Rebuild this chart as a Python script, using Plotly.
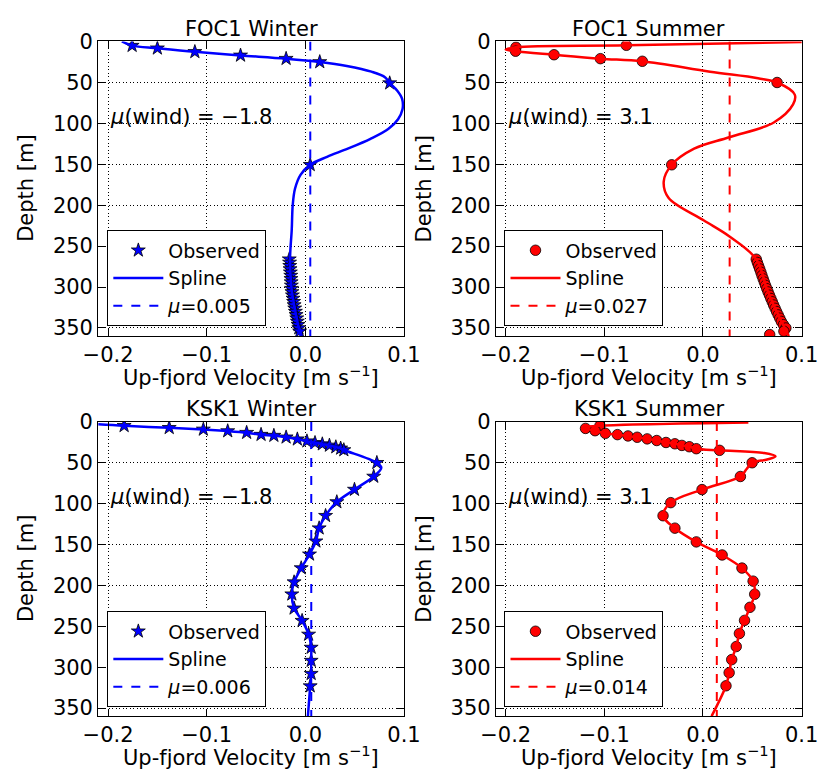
import plotly.graph_objects as go

FONT = "DejaVu Sans"

# ---------------- data ----------------
titles = ["FOC1 Winter", "FOC1 Summer", "KSK1 Winter", "KSK1 Summer"]
wind_labels = ["−1.8", "3.1", "−1.8", "3.1"]
means = [0.005, 0.027, 0.006, 0.014]
mean_labels = ["0.005", "0.027", "0.006", "0.014"]

# FOC1 Winter
foc1w_obs_depth = [5.2, 8.4, 12.8, 17.1, 21.1, 25.1, 51, 150.7,
                   266, 270, 274, 278, 282, 286, 290, 294, 298, 302, 306, 310,
                   314, 318, 322, 326, 330, 334, 338, 342, 346, 350, 354]
foc1w_obs_vel = [-0.1756, -0.150, -0.112, -0.0657, -0.0195, 0.0146, 0.0855, 0.0049,
                 -0.0163, -0.0160, -0.0158, -0.0155, -0.0152, -0.0148, -0.0146, -0.0144,
                 -0.0142, -0.0140, -0.0136, -0.0131, -0.0125, -0.0119, -0.0114, -0.0108,
                 -0.0101, -0.0094, -0.0087, -0.0081, -0.0074, -0.0066, -0.0058]
foc1w_spl_depth = [0, 5.2, 8.4, 12.8, 17.1, 21.1, 25.1, 30, 37, 44, 51, 60, 70, 83, 95,
                   107, 119, 131, 141, 150.7, 163, 180, 200, 230, 266, 302, 322, 342, 360]
foc1w_spl_vel = [-0.186, -0.1756, -0.150, -0.112, -0.0657, -0.0195, 0.0146, 0.042, 0.067,
                 0.081, 0.0855, 0.093, 0.098, 0.0985, 0.094, 0.084, 0.066, 0.043, 0.022,
                 0.0049, -0.0049, -0.0105, -0.0128, -0.0138, -0.0155, -0.0140, -0.0114,
                 -0.0081, -0.0048]

# FOC1 Summer
foc1s_obs_depth = [4.8, 7.2, 12, 16.3, 21.1, 24.3, 50.2, 150.7,
                   266, 270, 274, 278, 282, 286, 290, 294, 298, 302, 306, 310,
                   314, 318, 322, 326, 330, 334, 338, 342, 346, 350, 354, 358]
foc1s_obs_vel = [-0.0777, -0.1896, -0.190, -0.151, -0.104, -0.0615, 0.0751, -0.0317,
                 0.0540, 0.0551, 0.0563, 0.0575, 0.0587, 0.0598, 0.0610, 0.0622,
                 0.0634, 0.0647, 0.0660, 0.0674, 0.0688, 0.0702, 0.0716, 0.0731,
                 0.0746, 0.0762, 0.0778, 0.0794, 0.0815, 0.0840, 0.0820, 0.0676]
foc1s_spl_depth = [0.5, 4.8, 7.2, 10, 12, 16.3, 21.1, 24.3, 37, 45, 50.2, 65, 77, 99,
                   117, 131, 150.7, 171, 191, 218.5, 238, 266, 303, 323, 343, 360]
foc1s_spl_vel = [0.11, -0.0777, -0.1896, -0.200, -0.190, -0.151, -0.104, -0.0615, 0.0071,
                 0.0557, 0.0751, 0.093, 0.0913, 0.0718, 0.0265, -0.009, -0.0317, -0.0398,
                 -0.035, 0.0006, 0.0265, 0.054, 0.065, 0.072, 0.080, 0.087]

# KSK1 Winter
ksk1w_obs_depth = [4.8, 7.2, 9.2, 11.2, 13.2, 15.6, 16.8, 18.8, 21.2, 23.6, 25.6, 27.2,
                   28.8, 30.8, 32.4, 34.4, 50, 66.8, 82.8, 98, 114.8, 130, 146, 162,
                   178.8, 196, 210.8, 228, 243.2, 260, 276, 292, 308, 323.2]
ksk1w_obs_vel = [-0.1837, -0.138, -0.1034, -0.0787, -0.0595, -0.0449, -0.0319, -0.0195,
                 -0.0081, 0.0016, 0.0098, 0.0172, 0.0244, 0.0309, 0.0358, 0.039, 0.0725,
                 0.0693, 0.0498, 0.0319, 0.0205, 0.014, 0.0107, 0.0042, -0.0042, -0.0114,
                 -0.0137, -0.0114, -0.0033, 0.0033, 0.0059, 0.0059, 0.0059, 0.0049]
ksk1w_spl_depth = [3.0, 4.8, 7.2, 9.2, 11.2, 13.2, 15.6, 16.8, 18.8, 21.2, 23.6, 25.6,
                   27.2, 28.8, 30.8, 32.4, 34.4, 50, 56, 66.8, 82.8, 98, 114.8, 130,
                   146, 162, 178.8, 196, 210.8, 228, 243.2, 260, 276, 292, 308, 323.2, 360]
ksk1w_spl_vel = [-0.210, -0.1837, -0.138, -0.1034, -0.0787, -0.0595, -0.0449, -0.0319,
                 -0.0195, -0.0081, 0.0016, 0.0098, 0.0172, 0.0244, 0.0309, 0.0358, 0.039,
                 0.0725, 0.077, 0.0693, 0.0498, 0.0319, 0.0205, 0.014, 0.0107, 0.0042,
                 -0.0042, -0.0114, -0.0137, -0.0114, -0.0033, 0.0033, 0.0059, 0.0059,
                 0.0059, 0.0049, 0.0026]

# KSK1 Summer
ksk1s_obs_depth = [4.8, 8, 10.8, 14, 15.6, 17.2, 18.8, 20.8, 22.8, 25.2, 26.8, 28.8,
                   30.4, 32.8, 34.8, 50, 66.8, 82.8, 98.8, 114.8, 130, 146.8, 162.8,
                   178.8, 194.8, 210.8, 226.8, 242.8, 258.8, 274.8, 290.8, 306.8, 322.8]
ksk1s_obs_vel = [-0.1045, -0.1191, -0.1094, -0.099, -0.0867, -0.076, -0.0667, -0.0566,
                 -0.0469, -0.0375, -0.0285, -0.0214, -0.0139, -0.0068, 0.0168, 0.0498,
                 0.0379, -0.001, -0.0327, -0.0405, -0.0285, -0.0068, 0.0194, 0.0395,
                 0.0508, 0.0524, 0.0476, 0.0421, 0.0369, 0.0337, 0.0291, 0.0265, 0.0233]
ksk1s_spl_depth = [0.8, 4.8, 7.0, 10.8, 14, 15.6, 17.2, 18.8, 20.8, 22.8, 25.2, 26.8,
                   28.8, 30.4, 32.8, 34.8, 38, 42, 46, 50, 58, 66.8, 82.8, 98.8, 114.8,
                   130, 146.8, 162.8, 178.8, 194.8, 210.8, 226.8, 242.8, 258.8, 274.8,
                   290.8, 306.8, 322.8, 360]
ksk1s_spl_vel = [0.046, -0.1045, -0.122, -0.1094, -0.099, -0.0867, -0.076, -0.0667,
                 -0.0566, -0.0469, -0.0375, -0.0285, -0.0214, -0.0139, -0.0068, 0.0168,
                 0.062, 0.0735, 0.065, 0.0498, 0.044, 0.0379, -0.001, -0.0327, -0.0405,
                 -0.0285, -0.0068, 0.0194, 0.0395, 0.0508, 0.0524, 0.0476, 0.0421, 0.0369,
                 0.0337, 0.0291, 0.0265, 0.0233, 0.0087]

x_range = [-0.21, 0.1]
x_ticks = [-0.2, -0.1, 0.0, 0.1]
y_range = [360, 0]
y_ticks = [0, 50, 100, 150, 200, 250, 300, 350]
depth_limits = [0, 360]

panels = [
    (foc1w_obs_depth, foc1w_obs_vel, foc1w_spl_depth, foc1w_spl_vel, "blue", "star"),
    (foc1s_obs_depth, foc1s_obs_vel, foc1s_spl_depth, foc1s_spl_vel, "red", "circle"),
    (ksk1w_obs_depth, ksk1w_obs_vel, ksk1w_spl_depth, ksk1w_spl_vel, "blue", "star"),
    (ksk1s_obs_depth, ksk1s_obs_vel, ksk1s_spl_depth, ksk1s_spl_vel, "red", "circle"),
]

# ---------------- layout geometry (pixels) ----------------
W, H = 835, 777
px_x = [(86.5, 404.5), (500, 818), (86.5, 404.5), (500, 818)]
px_y = [(30, 331), (30, 331), (418.5, 719), (418.5, 719)]
legend_px = [(96, 223), (509, 223), (96, 612), (509, 612)]


def fx(p):
    return p / W


def fy(p):
    return 1 - p / H


fig = go.Figure()
layout = dict(
    width=W, height=H, margin=dict(l=0, r=0, t=0, b=0),
    paper_bgcolor="white", plot_bgcolor="white",
    font=dict(family=FONT, color="black", size=21),
    showlegend=True,
)
annotations = []

for i, (od, ov, sd, sv, col, sym) in enumerate(panels):
    n = i + 1
    xa = "x" if n == 1 else f"x{n}"
    ya = "y" if n == 1 else f"y{n}"
    lg = "legend" if n == 1 else f"legend{n}"

    fig.add_trace(go.Scatter(
        x=ov, y=od, mode="markers", name="Observed", legend=lg,
        xaxis=xa, yaxis=ya,
        marker=dict(symbol=sym, color=col, size=10.5,
                    line=dict(color="black", width=0.8)),
    ))
    fig.add_trace(go.Scatter(
        x=sv, y=sd, mode="lines", name="Spline", legend=lg,
        xaxis=xa, yaxis=ya,
        line=dict(color=col, width=2.5, shape="spline", smoothing=1.0),
    ))
    fig.add_trace(go.Scatter(
        x=[means[i], means[i]], y=depth_limits, mode="lines",
        name="<i>μ</i>=" + mean_labels[i], legend=lg,
        xaxis=xa, yaxis=ya,
        line=dict(color=col, width=2, dash="dash"),
    ))

    common = dict(showline=True, linecolor="black", linewidth=1, mirror="allticks",
                  ticks="inside", ticklen=7, tickcolor="black", tickwidth=1,
                  showgrid=True, gridcolor="black", griddash="1px,2.5px", gridwidth=1,
                  zeroline=False, tickfont=dict(family=FONT, size=21, color="black"))
    layout["xaxis" if n == 1 else f"xaxis{n}"] = dict(
        common, domain=[fx(px_x[i][0]), fx(px_x[i][1])], anchor=ya,
        range=x_range, tickvals=x_ticks, tickformat=".1f")
    layout["yaxis" if n == 1 else f"yaxis{n}"] = dict(
        common, domain=[fy(px_y[i][1]), fy(px_y[i][0])], anchor=xa,
        range=y_range, tickvals=y_ticks)

    lx, ly = legend_px[i]
    layout[lg] = dict(x=fx(lx), y=fy(ly), xanchor="left", yanchor="top",
                      bgcolor="white", bordercolor="black", borderwidth=1,
                      font=dict(family=FONT, size=19, color="black"),
                      itemwidth=50, tracegroupgap=0)

    cx = fx((px_x[i][0] + px_x[i][1]) / 2)
    cy = fy((px_y[i][0] + px_y[i][1]) / 2)
    # title
    annotations.append(dict(text=titles[i], xref="paper", yref="paper", x=cx,
                            y=fy(px_y[i][0] - 13), xanchor="center", yanchor="middle",
                            showarrow=False, font=dict(size=21)))
    # x-axis title
    annotations.append(dict(text="Up-fjord Velocity [m s<sup>−1</sup>]", xref="paper",
                            yref="paper", x=cx, y=fy(px_y[i][1] + 41), xanchor="center",
                            yanchor="middle", showarrow=False, font=dict(size=21)))
    # y-axis title
    annotations.append(dict(text="Depth [m]", xref="paper", yref="paper",
                            x=fx(px_x[i][0] - 75), y=cy, xanchor="center",
                            yanchor="middle", textangle=-90, showarrow=False,
                            font=dict(size=21)))
    # wind annotation
    annotations.append(dict(
        text="<i>μ</i>(wind) = " + wind_labels[i],
        xref=xa, yref=ya, x=-0.2, y=92, xanchor="left", yanchor="middle",
        showarrow=False, font=dict(size=21)))

layout["annotations"] = annotations
fig.update_layout(**layout)
fig.write_html("out.html")
